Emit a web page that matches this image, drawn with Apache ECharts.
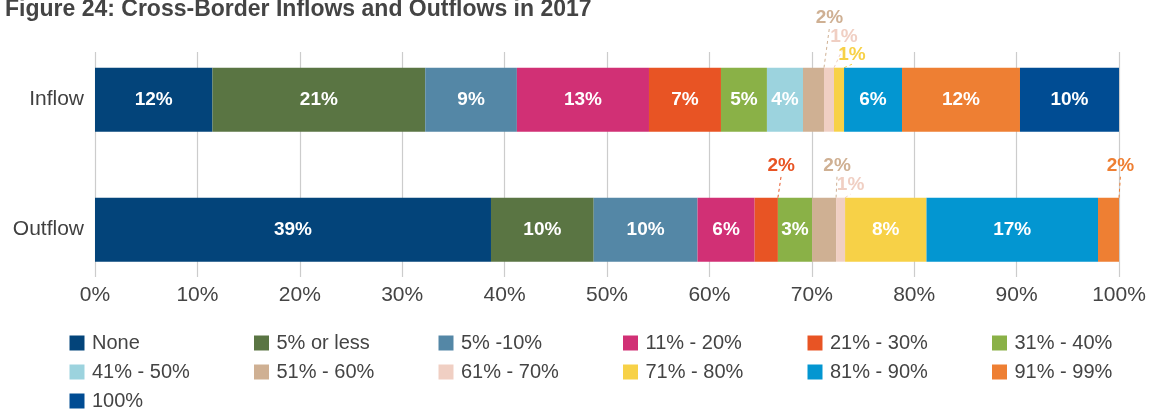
<!DOCTYPE html>
<html>
<head>
<meta charset="utf-8">
<script src="https://cdn.jsdelivr.net/npm/echarts@6/dist/echarts.min.js"></script>
<style>
html, body { margin: 0; padding: 0; background: #fff; }
#chart { width: 1150px; height: 412px; }
</style>
</head>
<body>
<div id="chart"></div>
<script>
const categories = ['Inflow', 'Outflow'];
const bands = ['None', '5% or less', '5% -10%', '11% - 20%', '21% - 30%', '31% - 40%',
  '41% - 50%', '51% - 60%', '61% - 70%', '71% - 80%', '81% - 90%', '91% - 99%', '100%'];
const bandColors = ['#03447a', '#5a7543', '#5487a6', '#d13075', '#e85424', '#8ab147',
  '#9cd3de', '#cfb093', '#f0cfc3', '#f7d147', '#0396d1', '#ee7f33', '#004c93'];
const inflow = [11.47, 20.78, 8.95, 12.9, 7.03, 4.49, 3.52, 2.05, 0.98, 0.98, 5.66, 11.52, 9.67];
const outflow = [38.67, 10.03, 10.14, 5.58, 2.27, 3.34, 0, 2.34, 0.88, 7.95, 16.75, 2.06, 0];
const inflowLabels = ['12%', '21%', '9%', '13%', '7%', '5%', '4%', '2%', '1%', '1%', '6%', '12%', '10%'];
const outflowLabels = ['39%', '10%', '10%', '6%', '2%', '3%', '', '2%', '1%', '8%', '17%', '2%', ''];

// small segments get their label above the bar: [shift right, rise] from segment top centre
const callouts = {
  '7-0': [16, 50], '8-0': [15, 31], '9-0': [13, 13],
  '4-1': [15, 32], '7-1': [13, 32], '8-1': [10, 13], '11-1': [12, 32]
};

const font = 'Liberation Sans, Arial, sans-serif';
const chart = echarts.init(document.getElementById('chart'));

const series = bands.map((name, i) => ({
  name: name,
  type: 'bar',
  stack: 'total',
  barWidth: 64,
  xAxisIndex: 0,
  yAxisIndex: 0,
  itemStyle: { color: bandColors[i] },
  label: { fontFamily: font, fontSize: 19, fontWeight: 'bold' },
  labelLine: { show: false, lineStyle: { type: [3, 3], width: 1 } },
  labelLayout: p => {
    const c = callouts[p.seriesIndex + '-' + p.dataIndex];
    if (!c) return {};
    return {
      x: p.rect.x + p.rect.width / 2 + c[0],
      y: p.rect.y - c[1],
      align: 'center',
      verticalAlign: 'middle'
    };
  },
  data: [inflow[i], outflow[i]].map((v, row) => {
    const text = row === 0 ? inflowLabels[i] : outflowLabels[i];
    const outside = callouts[i + '-' + row];
    return {
      value: v,
      label: {
        show: text !== '',
        formatter: text,
        position: outside ? 'top' : 'inside',
        color: outside ? bandColors[i] : '#fff'
      },
      labelLine: { show: !!outside }
    };
  })
}));

const option = {
  animation: false,
  title: {
    text: 'Figure 24: Cross-Border Inflows and Outflows in 2017',
    left: 0,
    top: -7,
    textStyle: { fontFamily: font, fontSize: 23, fontWeight: 'bold', color: '#444' }
  },
  grid: [
    { left: 95, right: 31, top: 34.7, bottom: 117.3 },
    { left: 95, right: 31, top: 52, bottom: 135 }
  ],
  xAxis: [
    { gridIndex: 0, type: 'value', min: 0, max: 100, show: false },
    {
      gridIndex: 1, type: 'value', min: 0, max: 100, interval: 10,
      axisLine: { show: false },
      axisTick: { show: false },
      axisLabel: { formatter: '{value}%', margin: 8, fontFamily: font, fontSize: 21, color: '#444' },
      splitLine: { lineStyle: { color: '#cccccc', width: 1.2 } }
    }
  ],
  yAxis: [
    {
      gridIndex: 0, type: 'category', inverse: true, data: categories,
      axisLine: { show: false },
      axisTick: { show: false },
      axisLabel: { margin: 11, fontFamily: font, fontSize: 21, color: '#404040' }
    },
    { gridIndex: 1, type: 'value', show: false }
  ],
  legend: {
    data: bands,
    left: 64.5,
    top: 328,
    width: 1120,
    itemWidth: 20,
    itemHeight: 15,
    itemGap: 9,
    icon: 'path://M0,0H10V10H0Z',
    textStyle: { fontFamily: font, fontSize: 20, color: '#444', width: 153, lineHeight: 20 }
  },
  series: series
};

chart.setOption(option);
</script>
</body>
</html>
